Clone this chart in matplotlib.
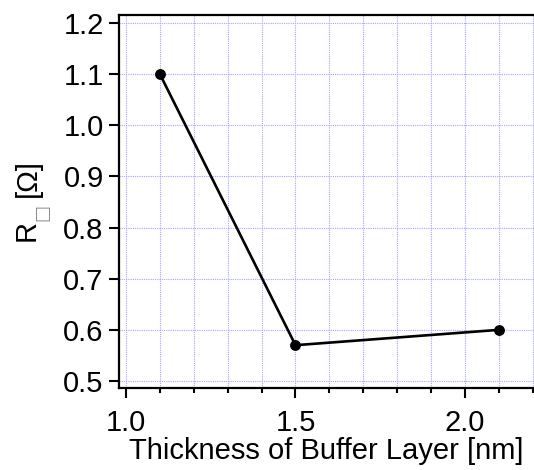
import matplotlib
matplotlib.use("Agg")
import matplotlib.pyplot as plt
from matplotlib.ticker import MultipleLocator

# Sheet resistance vs. buffer layer thickness
thickness_nm = [1.1, 1.5, 2.1]
resistance_ohm = [1.10, 0.57, 0.60]

x_major_ticks = [1.0, 1.5, 2.0]
x_tick_labels = ["1.0", "1.5", "2.0"]
y_ticks = [0.5, 0.6, 0.7, 0.8, 0.9, 1.0, 1.1, 1.2]
y_tick_labels = ["0.5", "0.6", "0.7", "0.8", "0.9", "1.0", "1.1", "1.2"]

W, H, DPI = 534, 470, 100
plt.rcParams["font.family"] = ["Liberation Sans", "DejaVu Sans"]

fig = plt.figure(figsize=(W / DPI, H / DPI), dpi=DPI)
left_px, right_px, top_px, bottom_px = 119, 534, 15, 388
ax = fig.add_axes([left_px / W, 1 - bottom_px / H,
                   (right_px - left_px) / W, (bottom_px - top_px) / H])

ax.plot(thickness_nm, resistance_ohm, color="black", lw=1.9,
        marker="o", ms=6.8, zorder=3, clip_on=False)

ax.set_xlim(0.9794, 2.2035)
ax.set_ylim(0.4863, 1.2156)

ax.set_xticks(x_major_ticks)
ax.set_xticklabels(x_tick_labels)
ax.xaxis.set_minor_locator(MultipleLocator(0.1))
ax.set_yticks(y_ticks)
ax.set_yticklabels(y_tick_labels)

grid_kw = dict(color="#a4a4ff", linestyle=(0, (1.0, 1.0)), linewidth=0.8)
ax.grid(True, which="both", axis="x", **grid_kw)
ax.grid(True, which="major", axis="y", **grid_kw)
ax.set_axisbelow(True)

for side in ("left", "top", "bottom"):
    ax.spines[side].set_linewidth(1.6)
ax.spines["right"].set_visible(False)

ax.tick_params(axis="both", which="major", direction="out", length=7,
               width=1.5, labelsize=21, colors="black")
ax.tick_params(axis="x", which="major", pad=8)
ax.tick_params(axis="y", which="major", pad=4)
ax.tick_params(axis="x", which="minor", direction="out", length=3.5, width=1.5)

ax.set_xlabel("Thickness of Buffer Layer [nm]", fontsize=21, labelpad=0)

# y-axis label assembled from pieces: R, a grey square subscript, [Ω]
def px(x, y):
    return x / W, 1 - y / H

fig.text(*px(35, 241), "R", rotation=90, rotation_mode="anchor",
         ha="left", va="baseline", fontsize=21)
fig.text(*px(47, 221), "\u25a1", rotation=90, rotation_mode="anchor",
         ha="left", va="baseline", fontsize=13, color="#8a8a8a",
         family=["DejaVu Sans"])
fig.text(*px(36, 197), "[\u03a9]", rotation=90, rotation_mode="anchor",
         ha="left", va="baseline", fontsize=21)

fig.savefig("out.png", dpi=DPI)
